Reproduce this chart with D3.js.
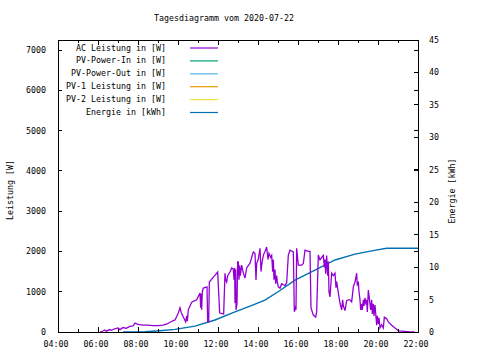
<!DOCTYPE html>
<html>
<head>
<meta charset="utf-8">
<script src="https://cdn.jsdelivr.net/npm/d3@7"></script>
<style>
body{margin:0;background:#fff;}
text{font-family:"DejaVu Sans Mono",monospace;font-size:8.3px;fill:#000;}
</style>
</head>
<body>
<svg id="chart" width="480" height="360"></svg>
<script>
// AC Leistung [W]
var acTime=["06:06","06:15","06:20","06:25","06:35","06:40","06:50","07:00","07:06","07:15","07:25","07:35","07:45","07:51","08:00","08:15","08:30","08:45","09:00","09:15","09:27","09:40","09:51","10:00","10:06","10:10","10:16","10:23","10:26","10:28","10:31","10:41","10:56","11:06","11:08","11:10","11:11","11:13","11:16","11:27","11:29","11:32","11:34","11:45","11:52","11:59","12:05","12:17","12:21","12:23","12:26","12:29","12:36","12:41","12:46","12:48","12:50","12:51","12:53","12:54","12:57","12:59","13:01","13:03","13:05","13:07","13:11","13:16","13:21","13:26","13:36","13:46","13:51","13:54","13:56","14:01","14:06","14:09","14:11","14:16","14:21","14:26","14:30","14:33","14:38","14:41","14:44","14:46","14:48","14:51","14:53","14:56","14:58","15:01","15:06","15:11","15:21","15:26","15:31","15:36","15:46","15:49","15:52","15:54","15:56","16:01","16:11","16:16","16:21","16:31","16:36","16:39","16:46","16:53","16:56","17:01","17:06","17:11","17:16","17:19","17:21","17:23","17:26","17:29","17:31","17:33","17:36","17:41","17:46","17:51","17:54","17:56","18:01","18:06","18:11","18:14","18:16","18:21","18:26","18:31","18:36","18:41","18:46","18:51","18:56","18:58","19:01","19:03","19:06","19:08","19:11","19:13","19:16","19:18","19:21","19:24","19:26","19:28","19:31","19:36","19:38","19:41","19:43","19:46","19:48","19:51","19:56","19:58","20:01","20:03","20:06","20:11","20:16","20:19","20:26","20:31","20:41","20:51","20:56","21:01","21:12","21:25","21:36","21:50"];
var acValue=[0,25,50,20,60,40,80,100,60,110,90,140,150,220,190,170,170,160,160,170,200,260,300,450,600,480,370,250,400,270,550,740,800,970,600,950,550,1000,1090,1120,250,250,1240,1350,1420,1490,470,450,1460,1300,1240,1400,1490,1590,1560,1300,1590,720,1550,550,700,1740,1740,1300,1650,1400,1660,1460,1340,1590,1710,1990,1950,1290,1700,1810,2080,1500,1660,1910,2000,2110,1800,1950,1850,1900,1500,1800,1300,1550,1200,1400,1240,1120,1090,1200,1150,1220,1910,2030,1990,500,600,550,2080,1660,1660,1700,2030,2000,2000,600,420,370,500,1910,1790,1850,1900,1600,1800,1450,1900,1400,1750,1000,870,1460,1400,1460,1100,1250,970,720,550,800,650,530,780,800,800,750,1120,1240,1460,1150,1250,1000,800,550,700,550,800,650,850,680,800,500,1040,700,550,800,450,700,400,670,170,400,200,350,100,180,100,370,330,250,170,100,70,30,20,10,0,0];
// Energie [kWh]
var enTime=["07:15","08:21","09:06","09:51","10:51","11:51","12:51","13:36","14:21","15:06","15:51","16:51","17:51","18:51","19:41","20:26","22:00"];
var enValue=[0,0.05,0.2,0.4,0.9,1.85,3.1,4.0,4.9,6.4,8.0,9.55,11.1,12.0,12.5,12.9,12.9];

var legendLabels=["AC Leistung in [W]","PV-Power-In in [W]","PV-Power-Out in [W]","PV-1 Leistung in [W]","PV-2 Leistung in [W]","Energie in [kWh]"];
var legendColors=["#9400d3","#009e73","#56b4e9","#e69f00","#f0e442","#0072b2"];
var yTicks=[0,1000,2000,3000,4000,5000,6000,7000];
var y2Ticks=[0,5,10,15,20,25,30,35,40,45];

var L=58,R=418,T=40,B=332;
var svg=d3.select("#chart");
var parse=d3.timeParse("%H:%M");

var x=d3.scaleTime().domain([parse("04:00"),parse("22:00")]).range([L,R]);
var y=d3.scaleLinear().domain([0,7250]).range([B,T]);
var y2=d3.scaleLinear().domain([0,45]).range([B,T]);

svg.append("text").attr("x",224).attr("y",21).attr("text-anchor","middle").text("Tagesdiagramm vom 2020-07-22");

// data lines
var acData=acTime.map(function(t,i){return {t:parse(t),v:acValue[i]};});
var enData=enTime.map(function(t,i){return {t:parse(t),v:enValue[i]};});

svg.append("path").datum(enData)
	.attr("fill","none").attr("stroke",legendColors[5]).attr("stroke-width",1.4)
	.attr("d",d3.line().x(function(d){return x(d.t);}).y(function(d){return y2(d.v);}));
svg.append("path").datum(acData)
	.attr("fill","none").attr("stroke",legendColors[0]).attr("stroke-width",1.3)
	.attr("d",d3.line().x(function(d){return x(d.t);}).y(function(d){return y(d.v);}));

// border
svg.append("rect").attr("x",L).attr("y",T).attr("width",R-L).attr("height",B-T)
	.attr("fill","none").attr("stroke","#000").attr("stroke-width",1).attr("shape-rendering","crispEdges");

// ticks drawn inward, gnuplot style
var ticks=svg.append("g").attr("stroke","#000").attr("shape-rendering","crispEdges");
var hours=d3.range(4,23);
hours.forEach(function(h){
	var px=x(parse((h<10?"0":"")+h+":00")),len=(h%2==0)?5:3;
	ticks.append("line").attr("x1",px).attr("x2",px).attr("y1",B).attr("y2",B-len);
	ticks.append("line").attr("x1",px).attr("x2",px).attr("y1",T).attr("y2",T+len);
	if(h%2==0){
		svg.append("text").attr("x",px-2).attr("y",347).attr("text-anchor","middle").text((h<10?"0":"")+h+":00");
	}
});
yTicks.forEach(function(v){
	var py=y(v);
	ticks.append("line").attr("x1",L).attr("x2",L+4).attr("y1",py).attr("y2",py);
	ticks.append("line").attr("x1",R).attr("x2",R-4).attr("y1",py).attr("y2",py);
	svg.append("text").attr("x",46).attr("y",py+3).attr("text-anchor","end").text(v);
});
y2Ticks.forEach(function(v){
	var py=y2(v);
	ticks.append("line").attr("x1",R).attr("x2",R-4).attr("y1",py).attr("y2",py);
	svg.append("text").attr("x",429).attr("y",py+3).text(v);
});

svg.append("text").attr("transform","translate(13,190) rotate(-90)").attr("text-anchor","middle").text("Leistung [W]");
svg.append("text").attr("transform","translate(455,191) rotate(-90)").attr("text-anchor","middle").text("Energie [kWh]");

// legend
var leg=svg.append("g").selectAll("g").data(legendLabels).enter().append("g")
	.attr("transform",function(d,i){return "translate(0,"+(47.5+i*12.9)+")";});
leg.append("text").attr("x",166).attr("y",3).attr("text-anchor","end").text(function(d){return d;});
leg.append("line").attr("x1",190).attr("x2",218).attr("y1",0.5).attr("y2",0.5)
	.attr("stroke",function(d,i){return legendColors[i];}).attr("stroke-width",1.2);
</script>
</body>
</html>
